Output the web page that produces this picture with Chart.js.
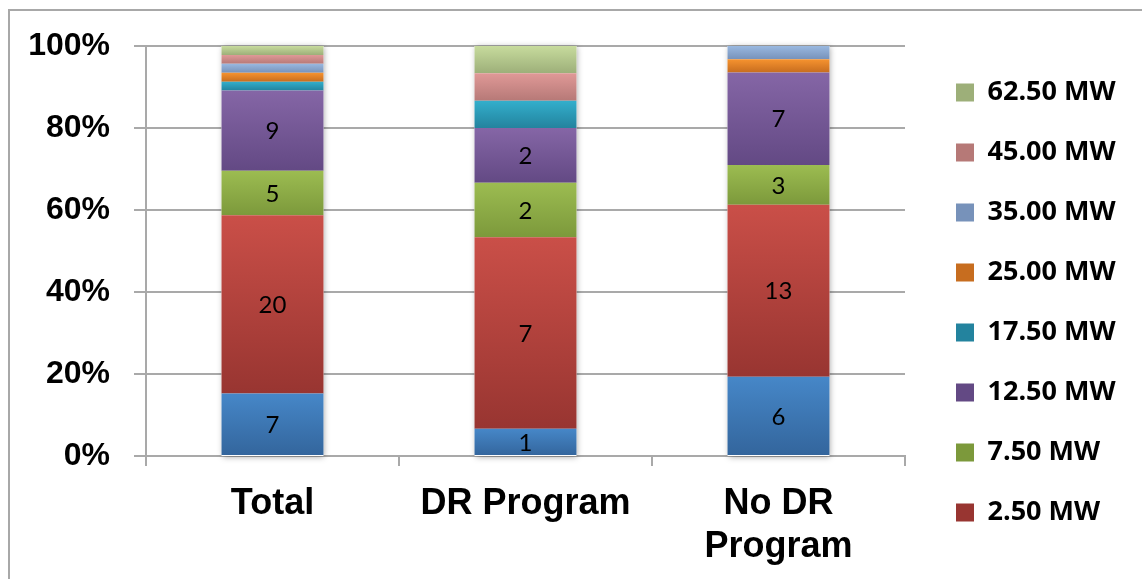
<!DOCTYPE html>
<html>
<head>
<meta charset="utf-8">
<title>Unit sizes by program participation</title>
<script src="https://cdn.jsdelivr.net/npm/chart.js@4.4.1/dist/chart.umd.min.js"></script>
<style>
  html, body { margin: 0; padding: 0; background: #ffffff; }
  canvas { display: block; }
</style>
</head>
<body>
<canvas id="chart" width="1142" height="579"></canvas>
<script>
// Categories along the x axis
const categories = ['Total', 'DR Program', ['No DR', 'Program']];

// Unit counts per size class, bottom of the stack first
const countsSmall = [7, 1, 6];
const counts2p50 = [20, 7, 13];
const counts7p50 = [5, 2, 3];
const counts12p50 = [9, 2, 7];
const counts17p50 = [1, 1, 0];
const counts25p00 = [1, 0, 1];
const counts35p00 = [1, 0, 1];
const counts45p00 = [1, 1, 0];
const counts62p50 = [1, 1, 0];

// Series names, bottom of the stack first
const seriesNames = ['< 2.50 MW', '2.50 MW', '7.50 MW', '12.50 MW', '17.50 MW',
                     '25.00 MW', '35.00 MW', '45.00 MW', '62.50 MW'];

// Percentage axis ticks
const yTicks = [0, 20, 40, 60, 80, 100];

// Gradient colours (top, bottom) for each series
const seriesColors = [
  ['#4687C8', '#33659C'],
  ['#CA4F48', '#983531'],
  ['#9CBC51', '#7C993B'],
  ['#8566A6', '#634984'],
  ['#33AFCC', '#23839E'],
  ['#F6932F', '#C76D1F'],
  ['#99B8E0', '#7792BA'],
  ['#E09997', '#B67977'],
  ['#C7DB9D', '#9DAF79']
];

const allCounts = [countsSmall, counts2p50, counts7p50, counts12p50, counts17p50,
                   counts25p00, counts35p00, counts45p00, counts62p50];
// Only the four largest classes carry value labels
const labelledSeries = [true, true, true, true, false, false, false, false, false];

const totals = categories.map((_, i) => allCounts.reduce((s, arr) => s + arr[i], 0));
const shares = allCounts.map(arr => arr.map((v, i) => v / totals[i] * 100));

function mixColor(a, b) {
  const pa = [1, 3, 5].map(k => parseInt(a.substr(k, 2), 16));
  const pb = [1, 3, 5].map(k => parseInt(b.substr(k, 2), 16));
  return 'rgb(' + pa.map((v, k) => Math.round((v + pb[k]) / 2)).join(',') + ')';
}

// Vertical gradient for a single stacked segment, light at the top
function segmentFill(ctx) {
  const ds = ctx.datasetIndex;
  const [top, bottom] = seriesColors[ds];
  const chart = ctx.chart;
  const y = chart.scales && chart.scales.y;
  if (ctx.type !== 'data' || !y || !isFinite(y.top)) return mixColor(top, bottom);
  const i = ctx.dataIndex;
  let below = 0;
  for (let d = 0; d < ds; d++) below += shares[d][i];
  const yTop = y.getPixelForValue(below + shares[ds][i]);
  const yBot = y.getPixelForValue(below);
  if (!(yBot - yTop > 0.5)) return top;
  const g = chart.ctx.createLinearGradient(0, yTop, 0, yBot);
  g.addColorStop(0, top);
  g.addColorStop(1, bottom);
  return g;
}

const datasets = seriesNames.map((name, d) => ({
  label: name,
  data: shares[d],
  backgroundColor: segmentFill,
  borderWidth: 0,
  barPercentage: 0.403,
  categoryPercentage: 1.0
}));

// Legend and plot geometry
const legendFont = { family: 'Open Sans', size: 27, weight: 'bold' };
const legendBox = 18;
const legendPad = 33;
const plotRight = 905;
const legendGap = 18;

const gridGray = '#A9A9A9';

// Thin frame around the whole chart
const framePlugin = {
  id: 'frame',
  beforeDraw(chart) {
    const c = chart.ctx;
    c.save();
    c.strokeStyle = '#A8A8A8';
    c.lineWidth = 2;
    c.strokeRect(9, 10, chart.width + 50, chart.height + 50);
    c.restore();
  }
};

// Soft shadow behind each full stacked column
const columnShadow = {
  id: 'columnShadow',
  beforeDatasetsDraw(chart) {
    const meta = chart.getDatasetMeta(0);
    const y = chart.scales.y;
    const c = chart.ctx;
    c.save();
    c.shadowColor = 'rgba(0,0,0,0.35)';
    c.shadowBlur = 6;
    c.shadowOffsetX = 1;
    c.shadowOffsetY = 1;
    c.fillStyle = '#ffffff';
    meta.data.forEach(bar => {
      const top = y.getPixelForValue(100);
      const bot = y.getPixelForValue(0);
      c.fillRect(bar.x - bar.width / 2, top, bar.width, bot - top);
    });
    c.restore();
  }
};

// Counts printed in the middle of the larger segments
const segmentValues = {
  id: 'segmentValues',
  afterDatasetsDraw(chart) {
    const c = chart.ctx;
    c.save();
    c.font = '24px Lato';
    c.fillStyle = '#000000';
    c.textAlign = 'center';
    c.textBaseline = 'middle';
    chart.data.datasets.forEach((ds, d) => {
      if (!labelledSeries[d]) return;
      chart.getDatasetMeta(d).data.forEach((bar, i) => {
        const v = allCounts[d][i];
        if (!v) return;
        c.fillText(String(v), bar.x, (bar.y + bar.base) / 2 + 1);
      });
    });
    c.restore();
  }
};

function buildChart() {
  const chart = new Chart(document.getElementById('chart'), {
    type: 'bar',
    data: { labels: categories, datasets },
    plugins: [framePlugin, columnShadow, segmentValues],
    options: {
      responsive: false,
      animation: false,
      layout: { padding: { top: 46, right: 0, bottom: 0, left: 0 } },
      plugins: {
        tooltip: { enabled: false },
        legend: {
          position: 'right',
          align: 'start',
          reverse: true,
          maxWidth: 400,
          labels: {
            color: '#000000',
            font: legendFont,
            boxWidth: legendBox,
            boxHeight: legendBox,
            padding: legendPad,
            filter: item => item.datasetIndex !== 0
          }
        }
      },
      scales: {
        x: {
          stacked: true,
          grid: {
            display: true,
            drawOnChartArea: false,
            drawTicks: true,
            tickLength: 10,
            color: gridGray,
            lineWidth: 2
          },
          border: { display: true, color: gridGray, width: 2 },
          ticks: {
            color: '#000000',
            padding: 17,
            font: { family: 'Liberation Sans', size: 36, weight: 'bold', lineHeight: 1.18 }
          },
          afterFit(scale) { scale.height = 123; }
        },
        y: {
          stacked: true,
          min: 0,
          max: 100,
          afterBuildTicks(scale) { scale.ticks = yTicks.map(v => ({ value: v })); },
          grid: { color: gridGray, lineWidth: 2, tickLength: 12 },
          border: { display: true, color: gridGray, width: 2 },
          ticks: {
            color: '#000000',
            padding: 24,
            font: { family: 'Liberation Sans', size: 32, weight: 'bold' },
            callback: v => v + '%'
          },
          afterFit(scale) { scale.width = 146; }
        },
        gap: {
          type: 'linear',
          position: 'right',
          display: true,
          grid: { display: false },
          border: { display: false },
          ticks: { display: false },
          afterFit(scale) { scale.width = legendGap; }
        }
      }
    }
  });

  // Pad the right edge so the plot area ends at the intended position
  for (let k = 0; k < 3; k++) {
    const overshoot = chart.chartArea.right - plotRight;
    if (Math.abs(overshoot) <= 0.5) break;
    chart.options.layout.padding.right = Math.max(0, chart.options.layout.padding.right + overshoot);
    chart.update();
  }
}

const fontLoads = [
  'bold 27px "Open Sans"', '24px Lato', 'bold 36px "Liberation Sans"', 'bold 32px "Liberation Sans"'
].map(f => document.fonts.load(f).catch(() => null));
Promise.all(fontLoads).then(buildChart, buildChart);
</script>
</body>
</html>
